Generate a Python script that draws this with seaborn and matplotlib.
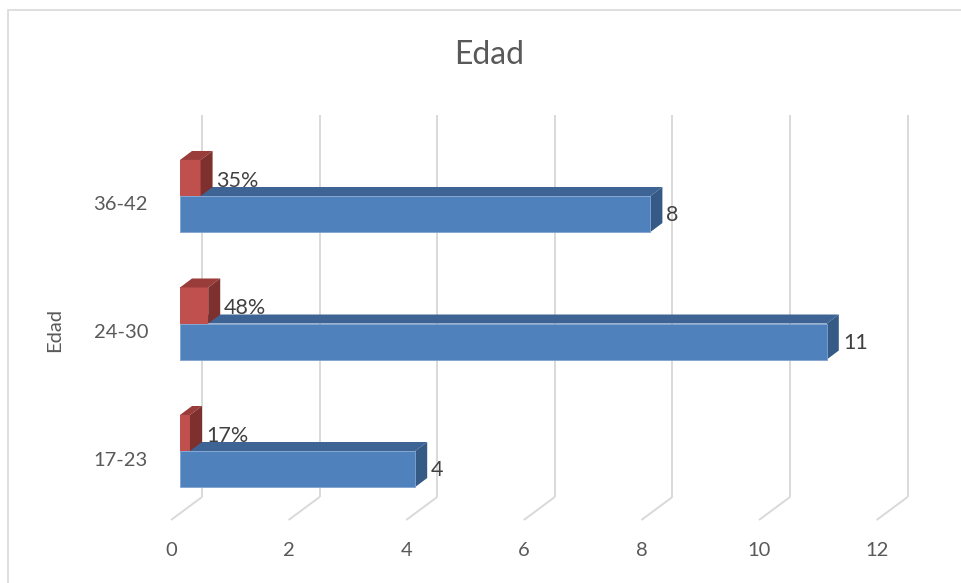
import matplotlib
matplotlib.use("Agg")
import matplotlib.pyplot as plt
from matplotlib.patches import Polygon, Rectangle
import seaborn as sns
import pandas as pd

# ---- data ----
categories = ["36-42", "24-30", "17-23"]          # top to bottom
cantidad = [8, 11, 4]
porcentaje = [0.35, 0.48, 0.17]
x_ticks = [0, 2, 4, 6, 8, 10, 12]
title = "Edad"
y_label = "Edad"

df = pd.DataFrame({
    "Edad": categories * 2,
    "Serie": ["Porcentaje"] * 3 + ["Cantidad"] * 3,
    "Valor": porcentaje + cantidad,
})

sns.set_theme(style="white")
plt.rcParams["font.family"] = ["Lato", "DejaVu Sans"]
TXT = "#595959"
LBL = "#404040"
GRID = "#D9D9D9"

W, H = 961, 583
fig = plt.figure(figsize=(W / 100, H / 100), dpi=100)
ax = fig.add_axes([0, 0, 1, 1])

front = {"Porcentaje": "#C0504D", "Cantidad": "#4F81BD"}
top_c = {"Porcentaje": "#9A3D3A", "Cantidad": "#3D6495"}
side_c = {"Porcentaje": "#7E302E", "Cantidad": "#365A86"}

sns.barplot(data=df, x="Valor", y="Edad", hue="Serie", order=categories,
            hue_order=["Porcentaje", "Cantidad"], palette=front, orient="h",
            width=0.565, saturation=1, legend=False, ax=ax, linewidth=0)

# pixel <-> data mapping
PX0, PXU = 180.0, 58.8          # px of value 0, px per unit
PY0, PYU = 196.0, 127.5         # px of first category boundary, px per category
ax.set_xlim((0 - PX0) / PXU, (W - PX0) / PXU)
ax.set_ylim((H - PY0) / PYU, (0 - PY0) / PYU)
ax.axis("off")

dx = 12 / PXU
dy = -9 / PYU

# back wall grid + floor
for k in x_ticks:
    xb = k + 22 / PXU
    ax.plot([xb, xb], [(115 - PY0) / PYU, (497 - PY0) / PYU], color=GRID, lw=1.4,
            zorder=0, solid_capstyle="butt")
    ax.plot([xb, xb - 31 / PXU], [(497 - PY0) / PYU, (520 - PY0) / PYU], color=GRID,
            lw=1.4, zorder=0, solid_capstyle="butt")
    ax.text(xb - 31 / PXU, (550 - PY0) / PYU, str(k), ha="center", va="center",
            fontsize=14.5, color=TXT)

# 3D faces and labels
for cont, serie in zip(ax.containers, ["Porcentaje", "Cantidad"]):
    for bar in cont:
        x0, y0 = bar.get_x(), bar.get_y()
        w, h = bar.get_width(), bar.get_height()
        yt, yb = min(y0, y0 + h), max(y0, y0 + h)
        x1 = x0 + w
        z = 1.5 if serie == "Porcentaje" else 0.5
        topf = Polygon([(x0, yt), (x1, yt), (x1 + dx, yt + dy), (x0 + dx, yt + dy)],
                       closed=True, facecolor=top_c[serie], edgecolor="none", zorder=z)
        sidef = Polygon([(x1, yt), (x1 + dx, yt + dy), (x1 + dx, yb + dy), (x1, yb)],
                        closed=True, facecolor=side_c[serie], edgecolor="none", zorder=z)
        ax.add_patch(topf)
        ax.add_patch(sidef)
        if serie == "Cantidad":
            bar.set_edgecolor("#7FA3D1")
            bar.set_linewidth(0.6)
            lab = f"{w:g}"
            yc = (yt + yb) / 2 + 1 / PYU
        else:
            lab = f"{round(w * 100):d}%"
            yc = (yt + yb) / 2 + 3 / PYU
        ax.text(x1 + 16 / PXU, yc, lab, ha="left", va="center", fontsize=15.5,
                color=LBL, zorder=3)

# category labels
for i, c in enumerate(categories):
    ax.text((148 - PX0) / PXU, i + 9 / PYU, c, ha="right", va="center",
            fontsize=14.5, color=TXT)

ax.text((55 - PX0) / PXU, (330 - PY0) / PYU, y_label, rotation=90, ha="center",
        va="center", fontsize=14.5, color=TXT)

fig.text(489 / W, 1 - 55 / H, title, ha="center", va="center", fontsize=23, color=TXT)

# chart border
fig.patches.append(Rectangle((8 / W, -0.1), 1.2, 1 - 10 / H + 0.1,
                             transform=fig.transFigure, fill=False,
                             edgecolor=GRID, lw=1.2, zorder=0))

fig.savefig("out.png", dpi=100)
